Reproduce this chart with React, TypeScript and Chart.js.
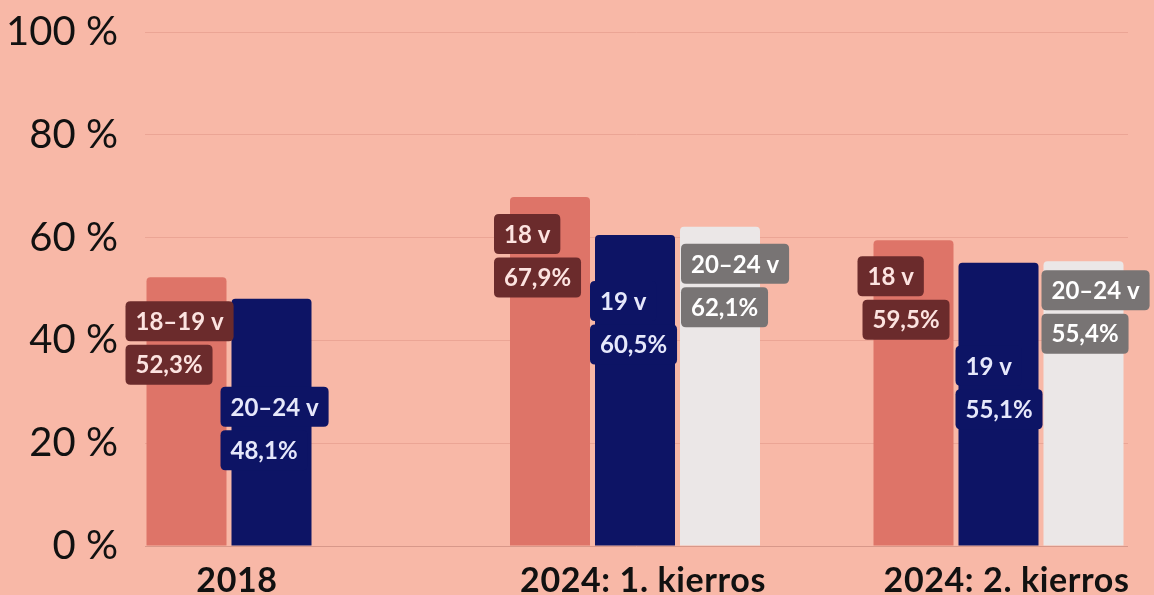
import React, { useEffect, useRef } from "react";
import { Chart, registerables } from "chart.js";

Chart.register(...registerables);

// ---- data ----
const categories = ["2018", "2024: 1. kierros", "2024: 2. kierros"];
const series1Values: (number | null)[] = [52.3, 67.9, 59.5];
const series2Values: (number | null)[] = [48.1, 60.5, 55.1];
const series3Values: (number | null)[] = [null, 62.1, 55.4];
const series1Labels: (string | null)[] = ["18–19 v", "18 v", "18 v"];
const series2Labels: (string | null)[] = ["20–24 v", "19 v", "19 v"];
const series3Labels: (string | null)[] = [null, "20–24 v", "20–24 v"];
const yTickValues = [0, 20, 40, 60, 80, 100];

// ---- styles ----
const BG = "#F8B8A7";
const barColors = ["#DE7468", "#0D1465", "#EBE7E7"];
const boxColors = ["#6B2B2C", "#0D1465", "#787474"];
const boxTextColors = ["#FCE3E0", "#E6E8FB", "#FFFFFF"];
// annotation offsets (px) relative to each bar's top-left corner
const labelDx = [[-21, -16, -16], [-11, -5, -3], [0, 1, -2]];
const labelDy = [[24, 17, 16], [88, 46, 83], [0, 17, 9]];
const valueDx = [[-21, -16, -11], [-11, -5, -3], [0, 1, -2]];
const VALUE_GAP = 43.5;
const BOX_H = 40;
const BOX_PAD = 10;
const BOX_FONT = 24;
const X_LABEL_SHIFT = 8;
// x-axis window (in category units) so groups sit where the reference has them
const X_MIN = (145 - 271.5) / 363.5;
const X_MAX = (1128 - 271.5) / 363.5;

const seriesValues = [series1Values, series2Values, series3Values];
const seriesLabels = [series1Labels, series2Labels, series3Labels];

const fmt = (v: number) => v.toFixed(1).replace(".", ",") + "%";

function roundRect(ctx: CanvasRenderingContext2D, x: number, y: number, w: number, h: number, r: number) {
  ctx.beginPath();
  ctx.moveTo(x + r, y);
  ctx.lineTo(x + w - r, y);
  ctx.quadraticCurveTo(x + w, y, x + w, y + r);
  ctx.lineTo(x + w, y + h - r);
  ctx.quadraticCurveTo(x + w, y + h, x + w - r, y + h);
  ctx.lineTo(x + r, y + h);
  ctx.quadraticCurveTo(x, y + h, x, y + h - r);
  ctx.lineTo(x, y + r);
  ctx.quadraticCurveTo(x, y, x + r, y);
  ctx.closePath();
}

function drawBox(ctx: CanvasRenderingContext2D, text: string, x: number, y: number, fill: string, color: string) {
  const w = ctx.measureText(text).width + BOX_PAD * 2;
  ctx.fillStyle = fill;
  roundRect(ctx, x, y, w, BOX_H, 5);
  ctx.fill();
  ctx.fillStyle = color;
  ctx.fillText(text, x + BOX_PAD, y + BOX_H / 2 + 1);
}

const bgPlugin = {
  id: "bg",
  beforeDraw(chart: any) {
    const { ctx, width, height } = chart;
    ctx.save();
    ctx.fillStyle = BG;
    ctx.fillRect(0, 0, width, height);
    ctx.restore();
  },
};

const labelPlugin = {
  id: "barLabels",
  afterDatasetsDraw(chart: any) {
    const ctx: CanvasRenderingContext2D = chart.ctx;
    ctx.save();
    ctx.font = `bold ${BOX_FONT}px Lato`;
    ctx.textBaseline = "middle";
    ctx.textAlign = "left";
    seriesValues.forEach((vals, d) => {
      const meta = chart.getDatasetMeta(d);
      vals.forEach((v, i) => {
        if (v == null) return;
        const bar = meta.data[i];
        const left = bar.x - bar.width / 2;
        const top = bar.y;
        const lbl = seriesLabels[d][i];
        if (lbl) drawBox(ctx, lbl, left + labelDx[d][i], top + labelDy[d][i], boxColors[d], boxTextColors[d]);
        drawBox(ctx, fmt(v), left + valueDx[d][i], top + labelDy[d][i] + VALUE_GAP, boxColors[d], boxTextColors[d]);
      });
    });
    ctx.restore();
  },
  afterDraw(chart: any) {
    const ctx: any = chart.ctx;
    ctx.save();
    ctx.font = "bold 34px Lato";
    if ("letterSpacing" in ctx) ctx.letterSpacing = "0.6px";
    ctx.fillStyle = "#111111";
    ctx.textAlign = "center";
    ctx.textBaseline = "alphabetic";
    categories.forEach((cat, i) => {
      let minL = Infinity;
      let maxR = -Infinity;
      seriesValues.forEach((vals, d) => {
        if (vals[i] == null) return;
        const bar = chart.getDatasetMeta(d).data[i];
        minL = Math.min(minL, bar.x - bar.width / 2);
        maxR = Math.max(maxR, bar.x + bar.width / 2);
      });
      const cx = (minL + maxR) / 2 + X_LABEL_SHIFT;
      ctx.fillText(cat, cx, chart.chartArea.bottom + 46);
    });
    ctx.restore();
  },
};

export default function App() {
  const ref = useRef<HTMLCanvasElement | null>(null);

  useEffect(() => {
    document.body.style.margin = "0";
    document.body.style.background = BG;
    let chart: Chart | null = null;
    let cancelled = false;
    const make = () => {
      if (cancelled || !ref.current) return;
      chart = new Chart(ref.current, {
        type: "bar",
        data: {
          datasets: seriesValues.map((vals, d) => ({
            label: `series${d + 1}`,
            data: vals.map((v, i) => ({ x: i, y: v })),
            backgroundColor: barColors[d],
            borderRadius: 4,
            borderSkipped: "start",
            categoryPercentage: 255 / 363.5,
            barPercentage: 80 / 85,
          })),
        } as any,
        options: {
          animation: false,
          responsive: true,
          maintainAspectRatio: false,
          layout: { padding: { top: 32, bottom: 49, right: 26, left: 0 } },
          plugins: { legend: { display: false }, tooltip: { enabled: false } },
          scales: {
            x: {
              type: "linear",
              display: false,
              offset: false,
              bounds: "data",
              grace: 0,
              min: X_MIN,
              max: X_MAX,
              afterBuildTicks: (scale: any) => {
                scale.ticks = categories.map((_, i) => ({ value: i }));
                scale.min = X_MIN;
                scale.max = X_MAX;
              },
            },
            y: {
              min: 0,
              max: 100,
              afterBuildTicks: (scale: any) => {
                scale.ticks = yTickValues.map((v) => ({ value: v }));
              },
              afterFit: (scale: any) => {
                scale.width = 145;
                scale.paddingTop = 0;
                scale.paddingBottom = 0;
              },
              border: { display: false },
              grid: {
                drawTicks: false,
                color: (c: any) => (c.tick && c.tick.value === 0 ? "#D8988A" : "#EBA595"),
                lineWidth: 1,
              },
              ticks: {
                padding: 27,
                color: "#111111",
                font: { family: "Lato", size: 40, weight: "normal" },
                callback: (v: any) => `${v} %`,
              },
            },
          },
        } as any,
        plugins: [bgPlugin, labelPlugin],
      });
    };
    const fonts = (document as any).fonts;
    if (fonts && fonts.load) {
      Promise.all([fonts.load("bold 24px Lato"), fonts.load("40px Lato")]).then(make, make);
    } else make();
    return () => {
      cancelled = true;
      if (chart) chart.destroy();
    };
  }, []);

  return (
    <div style={{ position: "relative", width: "1154px", height: "595px" }}>
      <canvas ref={ref} />
    </div>
  );
}
